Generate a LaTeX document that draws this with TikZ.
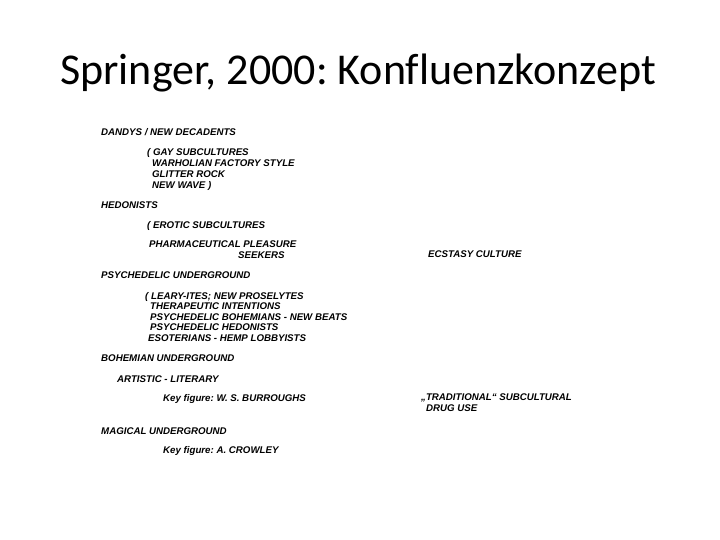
\documentclass[tikz,border=0pt]{standalone}
\usepackage{fontspec}
\setmainfont{Liberation Sans}
\newfontfamily\titlefont[Ligatures=NoCommon]{Carlito}
\frenchspacing
\begin{document}
\begin{tikzpicture}[x=1pt,y=-1pt,font=\bfseries\itshape\fontsize{9.7}{11}\selectfont,
	term/.style={anchor=base west,inner sep=0pt}]
	\useasboundingbox[fill=white] (0,0) rectangle (720,540);
	\node[font=\titlefont\fontsize{44}{48}\selectfont,anchor=base] (title) at (358,85) {Springer, 2000: Konfluenzkonzept};
	% left column
	\foreach \n/\x/\y/\t in {dandys/101/135.5/{DANDYS / NEW DECADENTS},
		gay/147/155.5/{( GAY SUBCULTURES},
		warhol/152/166.5/{WARHOLIAN FACTORY STYLE},
		glitter/152/177.5/{GLITTER ROCK},
		wave/152/188.5/{NEW WAVE )},
		hedon/101/208.5/{HEDONISTS},
		erotic/147/228.5/{( EROTIC SUBCULTURES},
		pharma/149/247.5/{PHARMACEUTICAL PLEASURE},
		seekers/238/258.5/{SEEKERS},
		psych/101/278.5/{PSYCHEDELIC UNDERGROUND},
		leary/145/299.5/{( LEARY-ITES; NEW PROSELYTES},
		thera/150/309.5/{THERAPEUTIC INTENTIONS},
		beats/150/320.5/{PSYCHEDELIC BOHEMIANS - NEW BEATS},
		phed/150/330.5/{PSYCHEDELIC HEDONISTS},
		esot/148/341.5/{ESOTERIANS - HEMP LOBBYISTS},
		bohem/101/361.5/{BOHEMIAN UNDERGROUND},
		artist/117/382.5/{ARTISTIC - LITERARY},
		burr/163/401.5/{Key figure: W. S. BURROUGHS},
		magic/101/434.5/{MAGICAL UNDERGROUND},
		crowl/163/453.5/{Key figure: A. CROWLEY}}{
		\node[term] (\n) at (\x,\y) {\t};}
	% right column
	\node[term] (ecstasy) at (428,257.5) {ECSTASY CULTURE};
	\node[term] (trad) at (421,400.5) {„TRADITIONAL“ SUBCULTURAL};
	\node[term] (druguse) at (426,411.5) {DRUG USE};
\end{tikzpicture}
\end{document}
